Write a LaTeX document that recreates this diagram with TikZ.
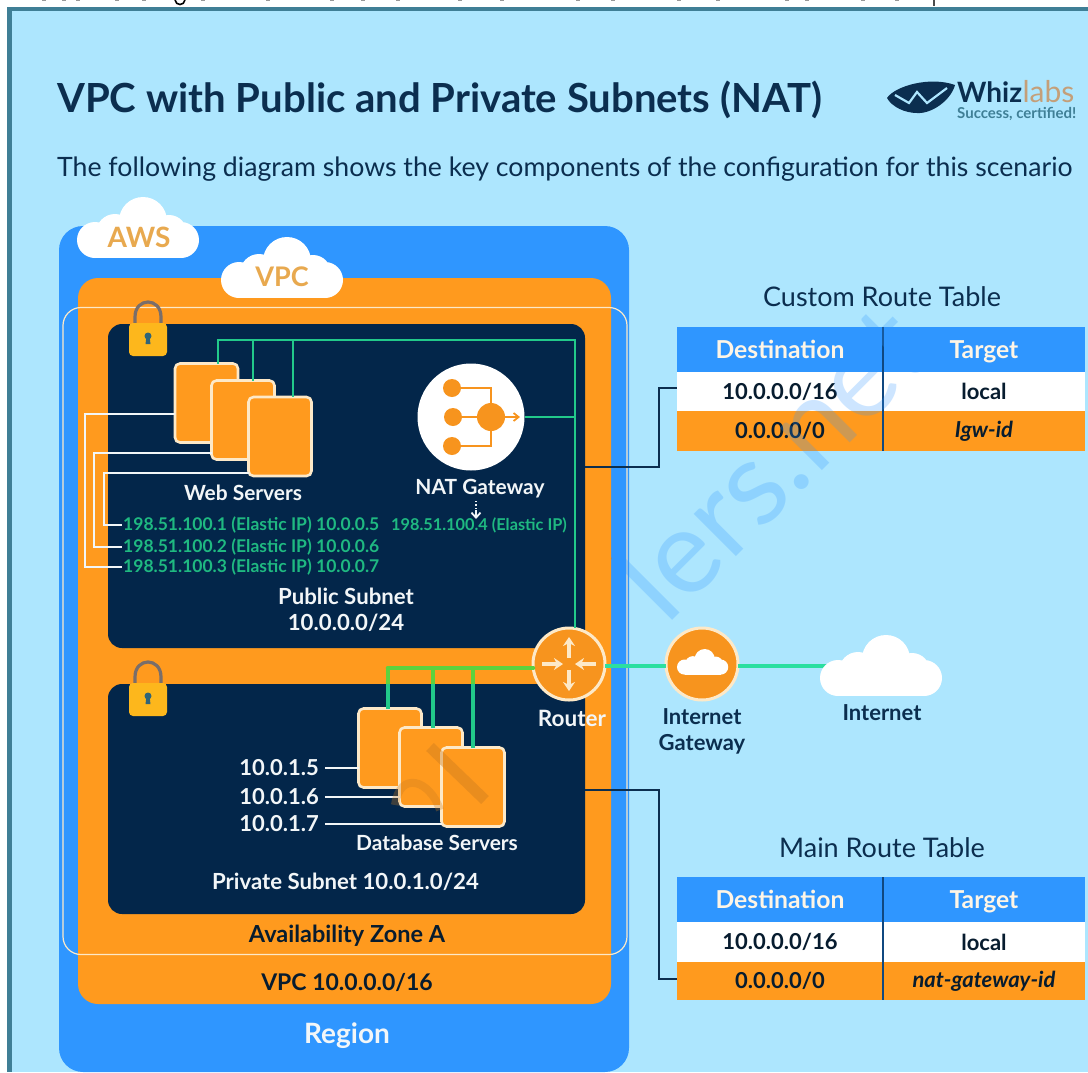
\documentclass[tikz,border=0pt]{standalone}
\usepackage{fontspec}
\setmainfont{Lato}
\usetikzlibrary{arrows.meta,calc}
\definecolor{bgc}{HTML}{ADE6FE}
\definecolor{framec}{HTML}{3F7F96}
\definecolor{regionc}{HTML}{2F96FF}
\definecolor{orangec}{HTML}{FF9A1E}
\definecolor{iconc}{HTML}{F7941E}
\definecolor{navyc}{HTML}{03264A}
\definecolor{inkc}{HTML}{0B2E4F}
\definecolor{greenc}{HTML}{22C98A}
\definecolor{barc}{HTML}{5DD23E}
\definecolor{linkc}{HTML}{2BDFA0}
\definecolor{ipc}{HTML}{1FB981}
\definecolor{paperc}{HTML}{F2F6F8}
\definecolor{creamc}{HTML}{FDE9C8}
\definecolor{cloudtxt}{HTML}{E8A94F}
\definecolor{lockc}{HTML}{FDB71C}
\definecolor{shacklec}{HTML}{7A6E6A}
\definecolor{tanc}{HTML}{C87A20}
\newcommand{\fs}[1]{\fontsize{#1}{#1}\selectfont}
\newcommand{\cloudshape}[3]{%
  \begin{scope}[shift={(#1,#2)},scale=#3]
    \fill[white] (66,24) circle (24) (38,36) circle (19) (92,36) circle (18) (18,43) circle (18) (104,43) circle (18);
    \fill[white] (18,30) rectangle (104,61);
  \end{scope}}
\newcommand{\lockicon}[2]{%
  \begin{scope}[shift={(#1,#2)}]
    \draw[line width=3.2pt,color=shacklec] (6,26) -- (6,17) .. controls (6,-3) and (32,-3) .. (32,17) -- (32,26);
    \fill[lockc,rounded corners=4pt] (0,23) rectangle (38,56);
    \fill[framec!80!black] (19,36) circle (3.5);
    \fill[framec!80!black] (17.4,37) -- (20.6,37) -- (21.5,44) -- (16.5,44) -- cycle;
  \end{scope}}
\tikzset{
  serverbox/.style={draw=creamc,fill=orangec,line width=2.6pt,rounded corners=5pt,minimum width=63pt,minimum height=79pt,inner sep=0pt,outer sep=0pt},
  subnetbox/.style={fill=navyc,rounded corners=14pt,inner sep=0pt,outer sep=0pt},
  pubbus/.style={draw=greenc,line width=2.4pt},
  privbus/.style={draw=greenc,line width=3.4pt},
  lead/.style={draw=paperc,line width=1.4pt},
  rtlink/.style={draw=inkc,line width=1.7pt},
  whitetxt/.style={text=paperc,font=\bfseries\fs{20.9},inner sep=0pt},
  iptxt/.style={text=ipc,font=\bfseries\fs{17.5},inner sep=0pt,anchor=west},
  darktxt/.style={text=inkc,font=\bfseries\fs{22},inner sep=0pt,align=center},
  rthead/.style={fill=regionc,text=creamc!45!white,font=\bfseries\fs{24.7},inner sep=0pt,outer sep=0pt,anchor=north west,text height=20pt,text depth=2pt},
  rtwhite/.style={fill=white,text=inkc!60!black,font=\bfseries\fs{22},inner sep=0pt,outer sep=0pt,anchor=north west},
  rtorange/.style={fill=orangec,text=inkc!60!black,font=\bfseries\fs{22},inner sep=0pt,outer sep=0pt,anchor=north west},
  rttitle/.style={text=inkc,font=\fs{27},inner sep=0pt},
  roundicon/.style={circle,draw=creamc,fill=iconc,line width=3pt,inner sep=0pt,outer sep=0pt,minimum size=72pt},
  routerarrow/.style={draw=creamc,line width=3.4pt,-{Stealth[length=9pt,width=12pt]}},
  naticon/.style={draw=iconc,line width=1.8pt},
  wmark/.style={font=\fs{118},inner sep=0pt,rotate=45}
}
\begin{document}
\begin{tikzpicture}[x=1pt,y=-1pt]
\useasboundingbox (0,0) rectangle (1088,1072);
\fill[white] (0,0) rectangle (1088,1072);
% cropped line of text above the frame
\foreach \q in {42,62,76,115,142,201,266,330,361,396,458,500,576,611,677,716,785,805,861,895}
  \fill[black!40] (\q,0) rectangle +(4,1.2);
\draw[black,line width=1.6pt] (175,0) .. controls (176,6) and (184,6) .. (185,0);
\draw[black!70,line width=1.2pt] (934,0) -- (934,6);
\fill[framec] (7,7) rectangle (1088,1072);
\fill[bgc] (12,11) rectangle (1088,1072);
% containers
\node[fill=regionc,rounded corners=24pt,minimum width=570pt,minimum height=846pt,inner sep=0pt,outer sep=0pt] (region) at (344,649) {};
\node[fill=orangec,rounded corners=20pt,minimum width=533pt,minimum height=726pt,inner sep=0pt,outer sep=0pt] (vpc) at (344.5,641) {};
\node[draw=creamc,line width=1.2pt,rounded corners=18pt,minimum width=564pt,minimum height=647pt,inner sep=0pt,outer sep=0pt] (az) at (345,631) {};
\node[subnetbox,minimum width=477pt,minimum height=324pt] (pub) at (346.5,486) {};
\node[subnetbox,minimum width=477pt,minimum height=230pt] (priv) at (346.5,799) {};
% clouds
\cloudshape{77}{197}{1}
\cloudshape{221}{237}{1}
\node[text=cloudtxt,font=\bfseries\fs{28},inner sep=0pt] (awslabel) at (139,237) {AWS};
\node[text=cloudtxt,font=\bfseries\fs{27},inner sep=0pt] (vpclabel) at (282,277) {VPC};
\lockicon{129}{300}
\lockicon{129}{660}
% public subnet connectors
\coordinate (busa) at (218,340);
\coordinate (busb) at (253,340);
\coordinate (busc) at (293,340);
\coordinate (busr) at (575,340);
\node[serverbox] (w1) at (206.5,403) {};
\node[serverbox] (w2) at (243,420) {};
\node[serverbox] (w3) at (280,436.5) {};
\node[circle,fill=white,inner sep=0pt,outer sep=0pt,minimum size=107pt] (nat) at (471,417) {};
\node[roundicon] (router) at (569,664) {};
\draw[pubbus] (router.north -| busr) -- (busr) -- (busa) -- (busa |- w1.north);
\draw[pubbus] (busb) -- (busb |- w2.north);
\draw[pubbus] (busc) -- (busc |- w3.north);
\draw[pubbus] (nat.east) -- (nat.east -| busr);
% nat icon
\coordinate (ni) at (491,417);
\coordinate (nia) at (452,388);
\coordinate (nib) at (453,417);
\coordinate (nic) at (452,446);
\draw[naticon] (nia) -- (nia -| ni) -- (nic -| ni) -- (nic);
\draw[naticon,-{Straight Barb[length=5pt,width=8pt]}] (nib) -- (520,417);
\fill[iconc] (nia) circle (9) (nib) circle (9) (nic) circle (9) (ni) circle (14);
% labels public
\node[whitetxt] (webl) at (243,493) {Web Servers};
\node[whitetxt] (natl) at (480,489) {NAT Gateway};
\node[iptxt] (ipa) at (123,525) {198.51.100.1 (Elastic IP) 10.0.0.5};
\node[iptxt] (ipb) at (123,547) {198.51.100.2 (Elastic IP) 10.0.0.6};
\node[iptxt] (ipc) at (123,567) {198.51.100.3 (Elastic IP) 10.0.0.7};
\node[iptxt,font=\bfseries\fs{16.3}] (ipn) at (391,525) {198.51.100.4 (Elastic IP)};
\draw[paperc,line width=1.4pt,dotted] (476,501) -- (476,510);
\draw[paperc,line width=1.8pt,-{Straight Barb[length=5pt,width=9pt]}] (476,510) -- (476,519);
\coordinate (la) at (85,414);
\coordinate (lb) at (94,453);
\coordinate (lc) at (104,473);
\draw[lead] (w1.west |- la) -- (la) -- (la |- ipc.west) -- ++(37,0);
\draw[lead] (w2.west |- lb) -- (lb) -- (lb |- ipb.west) -- ++(28,0);
\draw[lead] (w3.west |- lc) -- (lc) -- (lc |- ipa.west) -- ++(18,0);
\node[whitetxt,font=\bfseries\fs{22.2},align=center] (publ) at (346,610) {Public Subnet\\[4pt]10.0.0.0/24};
% private subnet
\node[serverbox] (d1) at (390,748) {};
\node[serverbox] (d2) at (431,767) {};
\node[serverbox] (d3) at (473,787) {};
\coordinate (pba) at (388,668);
\coordinate (pbb) at (433,668);
\coordinate (pbc) at (473,668);
\draw[privbus] (pba) -- (pba |- d1.north);
\draw[privbus] (pbb) -- (pbb |- d2.north);
\draw[privbus,line width=4.4pt] (pbc) -- (pbc |- d3.north);
\draw[draw=barc,line width=4.6pt,line cap=round] (pba) -- (pba -| router.west);
\draw[draw=barc,line width=4.6pt] (pba) -- ($(pba)+(0,16)$);
\draw[draw=barc,line width=3.6pt] (pbb) -- ($(pbb)+(0,16)$);
\draw[draw=barc,line width=4.4pt] (pbc) -- ($(pbc)+(0,16)$);
\node[whitetxt,font=\bfseries\fs{22}] (dba) at (279,768) {10.0.1.5};
\node[whitetxt,font=\bfseries\fs{22}] (dbb) at (279,797) {10.0.1.6};
\node[whitetxt,font=\bfseries\fs{22}] (dbc) at (279,824) {10.0.1.7};
\draw[lead,shorten <=6pt] (dba.east) -- (d1.west |- dba.east);
\draw[lead,shorten <=6pt] (dbb.east) -- (d2.west |- dbb.east);
\draw[lead,shorten <=6pt] (dbc.east) -- (d3.west |- dbc.east);
\node[whitetxt] (dbl) at (437,843) {Database Servers};
\node[whitetxt,font=\bfseries\fs{22.2}] (privl) at (345.5,882) {Private Subnet 10.0.1.0/24};
\node[darktxt,text=inkc!60!black,font=\bfseries\fs{23.5}] (azl) at (347,936) {Availability Zone A};
\node[darktxt,text=inkc!60!black,font=\bfseries\fs{23}] (vpcl) at (347,982) {VPC 10.0.0.0/16};
\node[text=paperc,font=\bfseries\fs{28},inner sep=0pt] (regl) at (347,1036) {Region};
% router glyph
\draw[routerarrow] ($(router.center)+(-27,0)$) -- ($(router.center)+(-6,0)$);
\draw[routerarrow] ($(router.center)+(27,0)$) -- ($(router.center)+(6,0)$);
\draw[routerarrow] ($(router.center)+(0,-6)$) -- ($(router.center)+(0,-27)$);
\draw[routerarrow] ($(router.center)+(0,6)$) -- ($(router.center)+(0,27)$);
\node[whitetxt,font=\bfseries\fs{22.5}] (routl) at (572,718) {Router};
% internet side
\node[roundicon] (igw) at (702,664) {};
\coordinate (netc) at (830,666);
\draw[draw=linkc,line width=4.6pt] (router.east |- netc) -- (igw.west |- netc);
\draw[draw=linkc,line width=4.6pt] (igw.east |- netc) -- (netc);
\cloudshape{820}{635}{1}
\cloudshape{677}{649}{0.42}
\node[darktxt] (netl) at (882,713) {Internet};
\node[darktxt] (igwl) at (702,731) {Internet\\[4pt]Gateway};
% custom route table
\node[rttitle] (t1t) at (882,297) {Custom Route Table};
\node[rthead,minimum width=206pt,minimum height=45pt] (t1ha) at (677,327) {Destination};
\node[rthead,minimum width=202pt,minimum height=45pt] (t1hb) at (883,327) {Target};
\node[rtwhite,minimum width=206pt,minimum height=39pt] (t1aa) at (677,372) {10.0.0.0/16};
\node[rtwhite,minimum width=202pt,minimum height=39pt] (t1ab) at (883,372) {local};
\node[rtorange,minimum width=206pt,minimum height=40pt] (t1ba) at (677,411) {0.0.0.0/0};
\node[rtorange,minimum width=202pt,minimum height=40pt] (t1bb) at (883,411) {\itshape Igw-id};
\draw[draw=navyc!70!regionc,line width=1.2pt] (t1ha.north east) -- (t1ba.south east);
% main route table
\node[rttitle] (t2t) at (882,848) {Main Route Table};
\node[rthead,minimum width=206pt,minimum height=45pt] (t2ha) at (677,877) {Destination};
\node[rthead,minimum width=202pt,minimum height=45pt] (t2hb) at (883,877) {Target};
\node[rtwhite,minimum width=206pt,minimum height=40pt] (t2aa) at (677,922) {10.0.0.0/16};
\node[rtwhite,minimum width=202pt,minimum height=40pt] (t2ab) at (883,922) {local};
\node[rtorange,minimum width=206pt,minimum height=38pt] (t2ba) at (677,962) {0.0.0.0/0};
\node[rtorange,minimum width=202pt,minimum height=38pt] (t2bb) at (883,962) {\itshape nat-gateway-id};
\draw[draw=navyc!70!regionc,line width=1.2pt] (t2ha.north east) -- (t2ba.south east);
% links to route tables
\coordinate (ca) at (659,467);
\coordinate (cb) at (677,388);
\coordinate (cc) at (659,790);
\coordinate (cd) at (677,979);
\draw[rtlink,line width=2.6pt] (pub.east |- ca) -- (ca) -- (ca |- cb) -- (cb);
\draw[rtlink] (priv.east |- cc) -- (cc) -- (cc |- cd) -- (cd);
% headings
\node[text=inkc,font=\bfseries\fs{40.1},inner sep=0pt,anchor=west] (title) at (57,100) {VPC with Public and Private Subnets (NAT)};
\node[text=inkc,font=\fs{26.66},inner sep=0pt,anchor=west] (subt) at (57,169) {The following diagram shows the key components of the configuration for this scenario};
% logo
\fill[inkc] (887,98) .. controls (895,86) and (930,76) .. (955,85) .. controls (951,100) and (932,114) .. (917,113) .. controls (905,113) and (892,107) .. (887,98) -- cycle;
\draw[bgc,line width=2.2pt] (895,95) -- (909,103) -- (917,92) -- (927,103) -- (947,88);
\node[inner sep=0pt,anchor=base west,text=inkc,font=\bfseries\fs{28}] (whiz) at (957,102) {Whiz};
\node[inner sep=0pt,anchor=base west,text=orange!60!inkc!60!white,font=\fs{30}] (labs) at (whiz.base east) {labs};
\node[inner sep=0pt,anchor=base west,text=framec,font=\bfseries\fs{15}] (cert) at (957,118) {Success, certified!};
% watermark
\begin{scope}
  \clip (611,0) rectangle (1088,1072);
  \node[wmark,text=regionc,text opacity=.24] (wma) at (771,461) {lers.net};
\end{scope}
\begin{scope}
  \clip (78,278) rectangle (611,1004);
  \node[wmark,text=tanc,text opacity=.4] (wmb) at (771,461) {lers.net};
  \draw[tanc,opacity=.4,line width=11pt] (430,747) -- (485,800);
  \draw[tanc,opacity=.3,line width=8pt] (395,805) .. controls (400,770) and (430,780) .. (440,810);
\end{scope}
\end{tikzpicture}
\end{document}
